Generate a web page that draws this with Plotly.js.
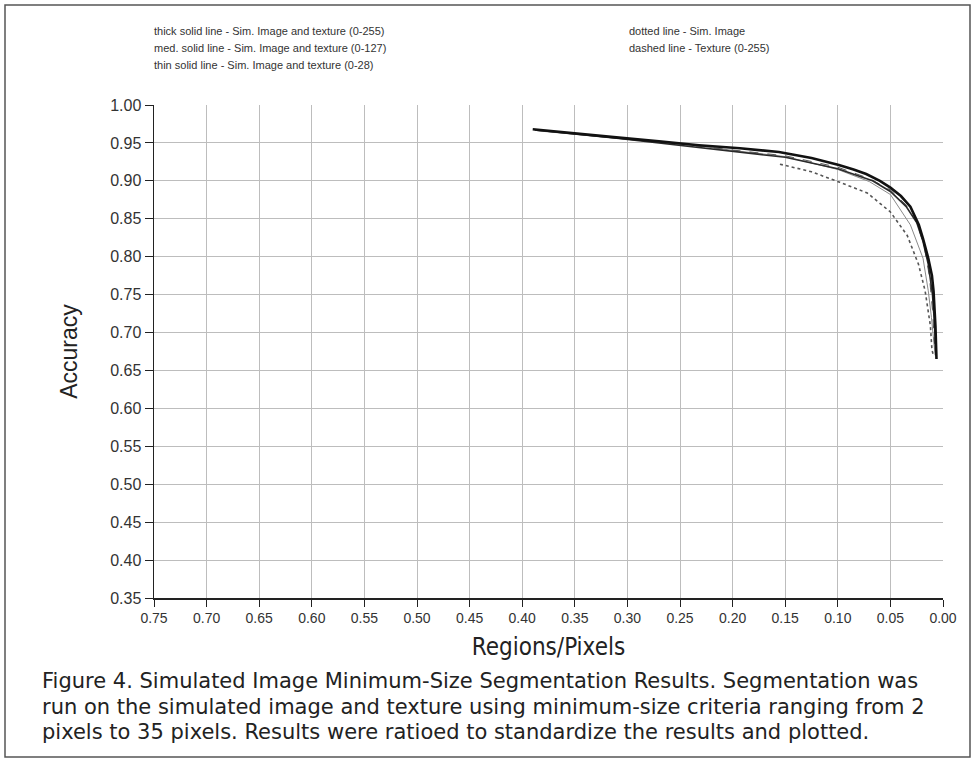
<!DOCTYPE html>
<html>
<head>
<meta charset="utf-8">
<script src="https://cdn.plot.ly/plotly-3.0.1.min.js"></script>
<style>
  html, body { margin: 0; padding: 0; background: #ffffff; }
  #chart { width: 976px; height: 767px; }
</style>
</head>
<body>
<div id="chart"></div>
<script>
// ---- data ----
const thickX = [0.390, 0.350, 0.308, 0.270, 0.232, 0.193, 0.156, 0.125, 0.099, 0.085, 0.073, 0.060, 0.050, 0.040, 0.031, 0.023, 0.019, 0.014, 0.0105, 0.009, 0.0072, 0.0062];
const thickY = [0.968, 0.963, 0.957, 0.952, 0.947, 0.943, 0.938, 0.930, 0.921, 0.915, 0.909, 0.900, 0.891, 0.880, 0.866, 0.842, 0.824, 0.798, 0.775, 0.755, 0.709, 0.665];

const medX = [0.388, 0.350, 0.308, 0.270, 0.232, 0.193, 0.150, 0.100, 0.067, 0.050, 0.035, 0.025, 0.019, 0.014, 0.010, 0.008, 0.0068];
const medY = [0.967, 0.962, 0.956, 0.950, 0.944, 0.937, 0.931, 0.916, 0.900, 0.886, 0.866, 0.845, 0.820, 0.790, 0.750, 0.710, 0.670];

const thinX = [0.386, 0.300, 0.232, 0.193, 0.150, 0.100, 0.070, 0.050, 0.031, 0.019, 0.014, 0.011, 0.009, 0.0075];
const thinY = [0.966, 0.955, 0.946, 0.939, 0.932, 0.915, 0.899, 0.882, 0.842, 0.798, 0.755, 0.720, 0.690, 0.670];

const dashX = [0.235, 0.193, 0.150, 0.100, 0.070, 0.050, 0.035, 0.025, 0.018, 0.013, 0.010, 0.008];
const dashY = [0.946, 0.940, 0.933, 0.918, 0.903, 0.888, 0.868, 0.845, 0.815, 0.775, 0.730, 0.685];

const dotX = [0.155, 0.125, 0.098, 0.072, 0.050, 0.034, 0.0233, 0.017, 0.012, 0.0105, 0.0095];
const dotY = [0.922, 0.912, 0.898, 0.884, 0.859, 0.828, 0.790, 0.755, 0.709, 0.677, 0.672];

const xTickVals = [0.75, 0.70, 0.65, 0.60, 0.55, 0.50, 0.45, 0.40, 0.35, 0.30, 0.25, 0.20, 0.15, 0.10, 0.05, 0.00];
const yTickVals = [0.35, 0.40, 0.45, 0.50, 0.55, 0.60, 0.65, 0.70, 0.75, 0.80, 0.85, 0.90, 0.95, 1.00];

const legendLeft = [
  "thick solid line - Sim. Image and texture (0-255)",
  "med. solid line - Sim. Image and texture (0-127)",
  "thin solid line - Sim. Image and texture (0-28)"
];
const legendRight = [
  "dotted line - Sim. Image",
  "dashed line - Texture (0-255)"
];
const captionLines = [
  "Figure 4. Simulated Image Minimum-Size Segmentation Results. Segmentation was",
  "run on the simulated image and texture using minimum-size criteria ranging from 2",
  "pixels to 35 pixels. Results were ratioed to standardize the results and plotted."
];

const sansFont = "Liberation Sans, Arial, sans-serif";
const condFont = "DejaVu Sans Condensed, Liberation Sans Narrow, Liberation Sans, sans-serif";
const capFont = "DejaVu Sans, sans-serif";

const traces = [
  { x: thinX, y: thinY, mode: 'lines', line: { color: '#8a8a8a', width: 1 }, name: 'thin' },
  { x: dashX, y: dashY, mode: 'lines', line: { color: '#555555', width: 1, dash: 'dash' }, name: 'dashed' },
  { x: medX, y: medY, mode: 'lines', line: { color: '#2a2a2a', width: 1.6 }, name: 'medium' },
  { x: dotX, y: dotY, mode: 'lines', line: { color: '#555555', width: 1.6, dash: 'dot' }, name: 'dotted' },
  { x: thickX, y: thickY, mode: 'lines', line: { color: '#111111', width: 2.6 }, name: 'thick' }
];

const annotations = [];
legendLeft.forEach((t, i) => {
  annotations.push({ text: t, xref: 'paper', yref: 'paper', x: (152 - 154) / 789, y: (598 - (31 + 17 * i)) / 493,
    xanchor: 'left', yanchor: 'middle', showarrow: false, font: { family: sansFont, size: 11, color: '#333' } });
});
legendRight.forEach((t, i) => {
  annotations.push({ text: t, xref: 'paper', yref: 'paper', x: (627 - 154) / 789, y: (598 - (31 + 17 * i)) / 493,
    xanchor: 'left', yanchor: 'middle', showarrow: false, font: { family: sansFont, size: 11, color: '#333' } });
});
captionLines.forEach((t, i) => {
  annotations.push({ text: t, xref: 'paper', yref: 'paper', x: (40 - 154) / 789, y: (598 - (681 + 25.5 * i)) / 493,
    xanchor: 'left', yanchor: 'middle', showarrow: false, font: { family: capFont, size: 21, color: '#222' } });
});

const layout = {
  width: 976, height: 767,
  margin: { l: 154, r: 33, t: 105, b: 169 },
  paper_bgcolor: '#ffffff', plot_bgcolor: '#ffffff',
  showlegend: false,
  xaxis: {
    range: [0.75, 0], autorange: false,
    tickvals: xTickVals, tickformat: '.2f',
    ticks: 'outside', ticklen: 7, tickcolor: '#222', tickwidth: 1,
    showline: true, linecolor: '#222', linewidth: 1.5,
    showgrid: true, gridcolor: '#bdbdbd', gridwidth: 1,
    zeroline: false,
    tickfont: { family: sansFont, size: 14, color: '#333' },
    title: { text: 'Regions/Pixels', font: { family: condFont, size: 24, color: '#222' }, standoff: 13 }
  },
  yaxis: {
    range: [0.35, 1.0], autorange: false,
    tickvals: yTickVals, tickformat: '.2f',
    ticks: 'outside', ticklen: 8, tickcolor: '#222', tickwidth: 1,
    showline: true, linecolor: '#222', linewidth: 1.5,
    showgrid: true, gridcolor: '#bdbdbd', gridwidth: 1,
    zeroline: false,
    tickfont: { family: sansFont, size: 16, color: '#333' },
    title: { text: 'Accuracy', font: { family: sansFont, size: 23, color: '#222' }, standoff: 26 }
  },
  annotations: annotations,
  shapes: [
    { type: 'rect', xref: 'paper', yref: 'paper',
      x0: (5 - 154) / 789, x1: (970 - 154) / 789, y0: (598 - 757) / 493, y1: (598 - 5) / 493,
      line: { color: '#555', width: 1.5 }, fillcolor: 'rgba(0,0,0,0)', layer: 'below' }
  ]
};

Plotly.newPlot('chart', traces, layout, { displayModeBar: false, staticPlot: true });
</script>
</body>
</html>
